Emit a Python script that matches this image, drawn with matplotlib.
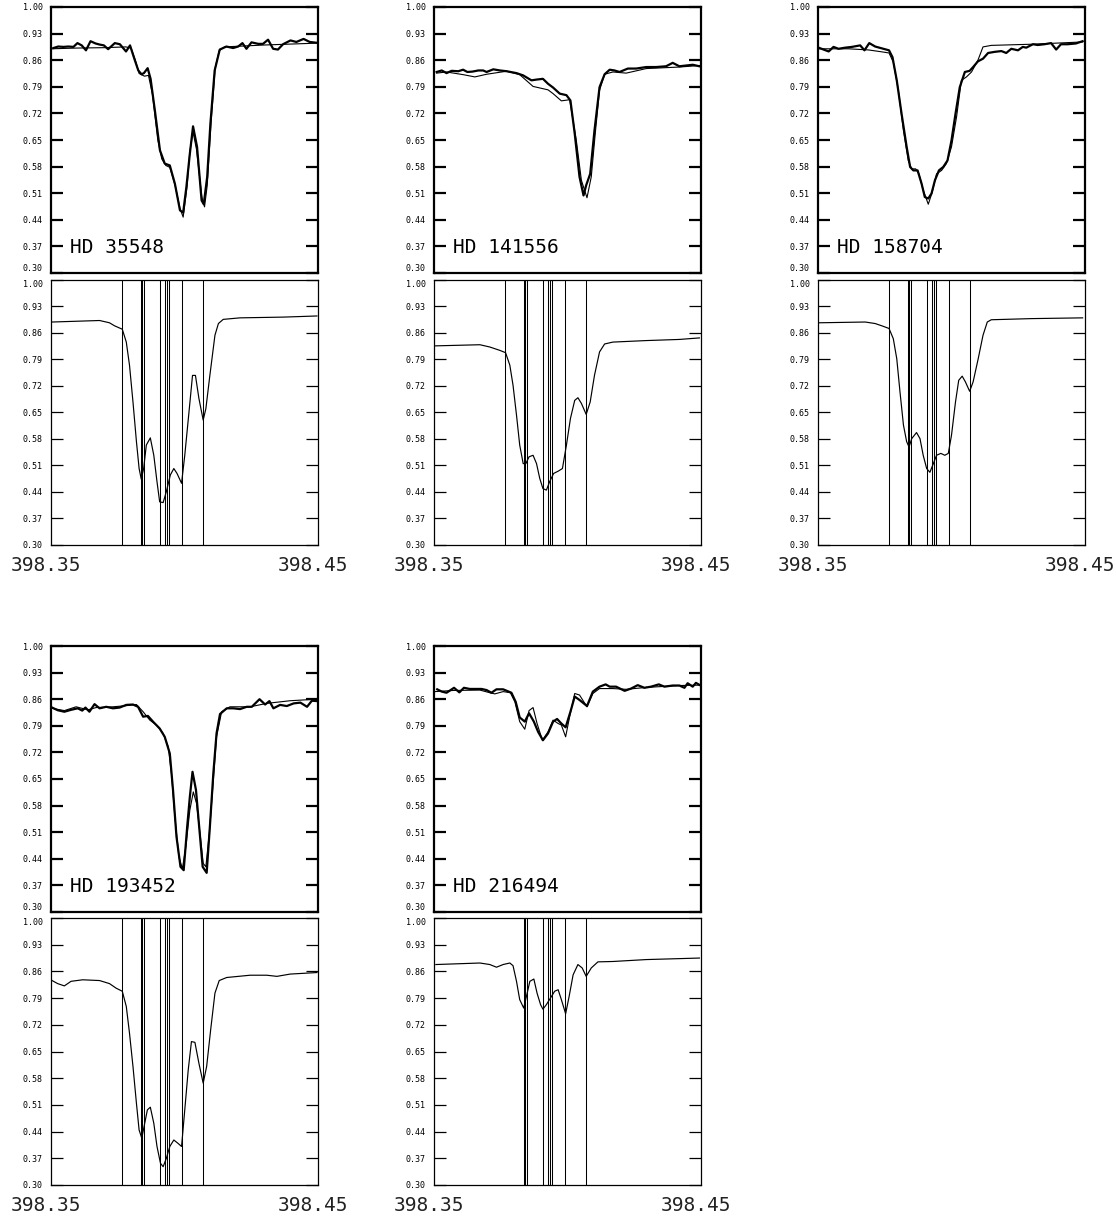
import numpy as np
import matplotlib
matplotlib.use("Agg")
import matplotlib.pyplot as plt
from matplotlib.transforms import ScaledTranslation

# ---------------- data (wavelength offsets in units of 0.001 nm from 398.35 nm) ----------------
WL0 = 398.35
ytick_vals = [0.30, 0.37, 0.44, 0.51, 0.58, 0.65, 0.72, 0.79, 0.86, 0.93, 1.00]
xtick_vals = [398.35, 398.45]
xtick_labels = ["398.35", "398.45"]
star_names = ["HD 35548", "HD 141556", "HD 158704", "HD 193452", "HD 216494"]

# line positions (offsets) marked in lower panels
lines_std = [26.7, 33.7, 34.2, 34.8, 40.7, 42.8, 43.3, 44.1, 49.0, 57.0]
lines_216494 = [33.7, 34.2, 34.8, 40.7, 42.8, 43.3, 44.1, 49.0, 57.0]

# HD 35548
obs1_x = [0.9, 2.7, 4.6, 6.5, 8.4, 9.9, 11.5, 13.1, 14.8, 16.7, 18.3, 19.8, 21.4, 23.9, 25.8, 28.1, 29.6, 31.2, 32.7, 33.9,
          34.8, 36.2, 37.3, 38.9, 40.8, 42.6, 44.5, 46.4, 48.3, 49.5, 50.7, 52.0, 53.2, 54.7, 56.4, 57.2, 58.5, 59.7, 61.3, 63.2,
          65.7, 68.2, 70.1, 71.7, 73.2, 75.1, 77.6, 79.4, 81.3, 83.2, 85.0, 86.9, 89.7, 91.9, 94.6, 96.9, 99.4]
obs1_y = [0.892, 0.896, 0.895, 0.896, 0.895, 0.905, 0.899, 0.886, 0.910, 0.904, 0.901, 0.899, 0.889, 0.905, 0.902, 0.883, 0.899, 0.864, 0.833, 0.823,
          0.826, 0.839, 0.811, 0.728, 0.623, 0.588, 0.583, 0.535, 0.465, 0.459, 0.526, 0.614, 0.686, 0.632, 0.491, 0.481, 0.553, 0.693, 0.833, 0.888,
          0.896, 0.892, 0.896, 0.905, 0.890, 0.907, 0.903, 0.903, 0.914, 0.890, 0.888, 0.902, 0.912, 0.908, 0.916, 0.908, 0.906]
mod1_x = [0, 10, 20, 28, 30, 31.5, 33, 35, 36.5, 38, 40, 41.5, 43, 44.5, 46.5, 48.3, 49.5, 51, 52, 53.2,
          54.5, 56.5, 57.5, 58.5, 60, 61.5, 63, 65, 80, 100]
mod1_y = [0.890, 0.892, 0.893, 0.895, 0.892, 0.862, 0.825, 0.818, 0.820, 0.770, 0.650, 0.600, 0.583, 0.578, 0.530, 0.470, 0.447, 0.530, 0.620, 0.671,
          0.625, 0.500, 0.474, 0.530, 0.700, 0.840, 0.885, 0.895, 0.900, 0.905]
syn1_x = [0.4, 18.2, 21.9, 23.8, 26.7, 28.2, 29.4, 30.7, 32.0, 33.0, 33.8, 34.7, 35.7, 37.2, 38.5, 39.7, 40.7, 42.0, 43.2, 44.7,
          46.0, 47.2, 48.9, 50.1, 51.8, 53.0, 54.1, 55.4, 57.0, 58.0, 59.5, 61.4, 62.7, 64.5, 70.8, 87.1, 99.6]
syn1_y = [0.889, 0.893, 0.887, 0.879, 0.870, 0.836, 0.775, 0.678, 0.573, 0.502, 0.474, 0.502, 0.564, 0.583, 0.537, 0.467, 0.414, 0.412, 0.441, 0.485,
          0.502, 0.489, 0.463, 0.537, 0.660, 0.748, 0.748, 0.687, 0.630, 0.660, 0.748, 0.854, 0.885, 0.896, 0.900, 0.902, 0.905]

# HD 141556
obs2_x = [1.0, 2.9, 4.7, 6.6, 9.1, 10.9, 12.5, 14.4, 16.6, 18.4, 19.7, 22.2, 24.7, 27.2, 30.9, 33.4, 36.5, 38.4, 40.8, 42.7,
          44.6, 47.1, 49.6, 51.1, 52.7, 54.5, 56.0, 57.0, 58.5, 60.1, 62.0, 63.9, 65.8, 67.6, 69.5, 72.6, 75.7, 79.5, 83.2, 86.9,
          89.4, 91.9, 94.4, 96.9, 99.4]
obs2_y = [0.829, 0.833, 0.826, 0.832, 0.831, 0.835, 0.829, 0.830, 0.833, 0.833, 0.829, 0.836, 0.833, 0.831, 0.826, 0.820, 0.807, 0.809, 0.811, 0.798,
          0.788, 0.772, 0.768, 0.754, 0.667, 0.553, 0.504, 0.531, 0.561, 0.675, 0.789, 0.823, 0.835, 0.833, 0.829, 0.838, 0.838, 0.842, 0.842, 0.844,
          0.853, 0.844, 0.846, 0.848, 0.844]
mod2_x = [1.0, 4.7, 10.9, 15.3, 19.7, 27.2, 32.1, 37.1, 42.7, 44.6, 47.7, 50.8, 53.3, 55.2, 57.3, 58.9, 60.5, 62.0, 63.9, 67.0,
          72.0, 79.5, 91.9, 99.4]
mod2_y = [0.826, 0.829, 0.822, 0.816, 0.823, 0.831, 0.822, 0.791, 0.782, 0.772, 0.753, 0.756, 0.649, 0.544, 0.498, 0.553, 0.675, 0.781, 0.823, 0.829,
          0.826, 0.838, 0.842, 0.846]
syn2_x = [0.4, 17.2, 20.9, 24.7, 26.8, 28.4, 29.6, 30.9, 32.1, 33.4, 34.4, 35.6, 37.1, 38.4, 39.6, 40.8, 42.1, 43.3, 44.8, 46.5,
          48.1, 49.6, 51.1, 52.7, 53.9, 55.2, 57.0, 58.5, 60.1, 62.0, 63.9, 67.0, 79.5, 91.9, 99.4]
syn2_y = [0.826, 0.829, 0.823, 0.814, 0.808, 0.775, 0.722, 0.643, 0.564, 0.515, 0.515, 0.533, 0.537, 0.515, 0.476, 0.449, 0.445, 0.467, 0.489, 0.495,
          0.502, 0.564, 0.634, 0.682, 0.689, 0.674, 0.645, 0.678, 0.748, 0.810, 0.831, 0.836, 0.840, 0.843, 0.847]

# HD 158704
obs3_x = [0.6, 2.1, 4.0, 5.8, 7.7, 10.2, 12.7, 15.8, 17.4, 19.2, 21.4, 24.5, 26.6, 27.9, 29.5, 31.3, 33.2, 34.5, 35.7, 37.3,
          38.8, 40.0, 41.3, 42.5, 43.8, 45.3, 46.9, 48.5, 50.0, 51.5, 53.1, 55.0, 56.8, 58.1, 59.9, 61.8, 63.7, 66.2, 68.7, 70.5,
          72.4, 74.9, 76.7, 78.0, 80.5, 82.3, 84.8, 87.3, 89.2, 91.0, 93.5, 96.6, 99.1]
obs3_y = [0.892, 0.888, 0.883, 0.895, 0.890, 0.893, 0.895, 0.899, 0.886, 0.905, 0.896, 0.890, 0.886, 0.868, 0.807, 0.719, 0.632, 0.579, 0.570, 0.570,
          0.535, 0.500, 0.496, 0.509, 0.544, 0.570, 0.579, 0.596, 0.649, 0.719, 0.789, 0.829, 0.832, 0.842, 0.857, 0.864, 0.879, 0.882, 0.884, 0.879,
          0.890, 0.886, 0.895, 0.893, 0.902, 0.900, 0.902, 0.905, 0.888, 0.902, 0.902, 0.904, 0.910]
mod3_x = [0.2, 11.4, 18.9, 23.9, 26.6, 28.2, 30.1, 32.0, 33.8, 35.1, 36.6, 37.8, 39.4, 41.3, 42.8, 44.4, 46.3, 48.1, 50.0, 51.9,
          53.7, 55.6, 57.5, 59.9, 61.8, 64.9, 79.9, 99.1]
mod3_y = [0.890, 0.890, 0.887, 0.882, 0.879, 0.855, 0.781, 0.675, 0.596, 0.574, 0.574, 0.561, 0.518, 0.481, 0.513, 0.561, 0.570, 0.588, 0.632, 0.711,
          0.807, 0.816, 0.829, 0.860, 0.895, 0.899, 0.902, 0.908]
syn3_x = [0.5, 17.7, 21.4, 23.9, 26.6, 28.2, 29.5, 30.7, 32.0, 33.2, 34.1, 35.1, 36.9, 38.2, 39.4, 40.7, 41.9, 43.2, 44.4, 46.0,
          47.5, 48.8, 50.0, 51.5, 52.7, 54.0, 55.2, 56.8, 58.1, 60.0, 61.8, 63.4, 64.9, 79.9, 99.1]
syn3_y = [0.887, 0.889, 0.885, 0.879, 0.872, 0.845, 0.792, 0.705, 0.617, 0.573, 0.559, 0.581, 0.597, 0.581, 0.537, 0.502, 0.492, 0.515, 0.537, 0.542,
          0.537, 0.542, 0.590, 0.678, 0.735, 0.746, 0.731, 0.706, 0.731, 0.792, 0.854, 0.889, 0.895, 0.898, 0.900]

# HD 193452
obs4_x = [0.4, 2.5, 5.0, 7.5, 10.0, 11.7, 12.9, 14.4, 16.3, 18.2, 20.7, 23.2, 25.7, 28.2, 30.7, 32.6, 34.5, 36.3, 38.2, 40.7,
          42.6, 44.5, 45.7, 47.0, 48.5, 49.7, 51.0, 52.0, 53.0, 54.3, 55.5, 56.8, 58.3, 59.5, 60.8, 62.0, 63.3, 65.8, 68.3, 70.8,
          73.3, 75.2, 78.1, 80.2, 81.8, 83.3, 85.8, 88.3, 90.9, 93.4, 95.9, 97.7, 99.6]
obs4_y = [0.838, 0.831, 0.827, 0.832, 0.836, 0.830, 0.838, 0.827, 0.847, 0.836, 0.840, 0.836, 0.838, 0.845, 0.846, 0.840, 0.814, 0.816, 0.801, 0.783,
          0.761, 0.717, 0.621, 0.498, 0.419, 0.410, 0.524, 0.603, 0.669, 0.621, 0.524, 0.419, 0.403, 0.524, 0.665, 0.770, 0.821, 0.836, 0.836, 0.834,
          0.840, 0.840, 0.860, 0.846, 0.855, 0.836, 0.845, 0.842, 0.849, 0.851, 0.840, 0.856, 0.855]
mod4_x = [0.4, 5.0, 9.4, 13.8, 16.9, 23.2, 28.2, 32.0, 34.5, 37.0, 39.5, 42.0, 43.9, 45.1, 46.4, 47.9, 49.2, 50.5, 52.0, 53.3,
          54.5, 55.8, 57.0, 58.0, 59.3, 60.8, 62.0, 63.9, 67.0, 74.6, 80.8, 89.6, 99.6]
mod4_y = [0.836, 0.830, 0.840, 0.832, 0.838, 0.840, 0.843, 0.846, 0.827, 0.805, 0.792, 0.770, 0.735, 0.665, 0.550, 0.445, 0.414, 0.471, 0.568, 0.616,
          0.586, 0.507, 0.428, 0.419, 0.507, 0.647, 0.761, 0.827, 0.840, 0.840, 0.849, 0.856, 0.860]
syn4_x = [0.4, 2.5, 5.0, 7.5, 11.9, 18.2, 21.9, 24.4, 26.7, 28.2, 29.4, 30.7, 32.0, 33.0, 34.0, 35.1, 36.1, 37.2, 38.5, 39.7,
          41.0, 42.0, 43.2, 44.5, 46.0, 47.6, 48.9, 50.1, 51.4, 52.6, 53.9, 55.4, 57.0, 58.3, 59.8, 61.4, 63.0, 65.8, 74.6, 80.8,
          84.6, 89.6, 99.6]
syn4_y = [0.836, 0.828, 0.822, 0.834, 0.838, 0.836, 0.828, 0.816, 0.808, 0.768, 0.698, 0.611, 0.514, 0.444, 0.423, 0.462, 0.497, 0.504, 0.462, 0.401,
          0.357, 0.348, 0.370, 0.401, 0.418, 0.409, 0.401, 0.497, 0.602, 0.676, 0.674, 0.619, 0.567, 0.611, 0.707, 0.803, 0.836, 0.844, 0.850, 0.850,
          0.847, 0.853, 0.857]

# HD 216494
obs5_x = [1.2, 2.9, 4.7, 7.5, 9.5, 11.2, 13.4, 15.9, 17.8, 19.7, 21.5, 23.4, 25.9, 29.0, 30.6, 32.1, 34.0, 35.6, 37.4, 39.0,
          40.8, 42.7, 44.6, 46.1, 47.7, 49.3, 51.1, 52.7, 54.5, 57.3, 59.5, 62.0, 64.3, 65.8, 68.2, 71.4, 73.8, 76.3, 78.8, 81.3,
          84.2, 86.3, 89.4, 91.9, 93.8, 95.0, 96.9, 98.1, 99.6]
obs5_y = [0.886, 0.880, 0.877, 0.890, 0.878, 0.890, 0.887, 0.887, 0.887, 0.884, 0.877, 0.886, 0.886, 0.877, 0.853, 0.812, 0.801, 0.823, 0.801, 0.774,
          0.752, 0.770, 0.801, 0.808, 0.796, 0.786, 0.827, 0.867, 0.858, 0.842, 0.880, 0.893, 0.899, 0.893, 0.893, 0.882, 0.888, 0.897, 0.890, 0.893,
          0.899, 0.893, 0.896, 0.896, 0.890, 0.902, 0.893, 0.903, 0.897]
mod5_x = [0.4, 7.2, 17.2, 20.9, 22.8, 25.9, 28.6, 30.3, 32.1, 34.0, 35.6, 37.1, 38.6, 40.6, 42.7, 44.6, 46.5, 47.7, 49.3, 50.8,
          52.7, 54.5, 57.3, 59.5, 62.0, 67.0, 72.0, 79.5, 91.9, 99.4]
mod5_y = [0.880, 0.883, 0.884, 0.877, 0.874, 0.880, 0.877, 0.853, 0.801, 0.781, 0.830, 0.838, 0.796, 0.752, 0.774, 0.805, 0.796, 0.792, 0.761, 0.814,
          0.875, 0.871, 0.840, 0.875, 0.888, 0.888, 0.886, 0.891, 0.896, 0.897]
syn5_x = [0.7, 17.2, 20.9, 23.4, 25.9, 28.4, 29.6, 30.9, 32.1, 33.6, 34.6, 35.9, 37.4, 38.6, 39.9, 40.8, 42.1, 43.6, 45.2, 46.5,
          47.7, 49.3, 50.6, 52.1, 53.9, 55.5, 57.0, 58.9, 61.4, 67.0, 79.5, 99.4]
syn5_y = [0.878, 0.882, 0.878, 0.871, 0.878, 0.882, 0.875, 0.834, 0.786, 0.764, 0.794, 0.834, 0.840, 0.803, 0.773, 0.761, 0.773, 0.790, 0.808, 0.812,
          0.786, 0.749, 0.794, 0.851, 0.878, 0.869, 0.847, 0.869, 0.885, 0.886, 0.891, 0.895]

panels = [
    (obs1_x, obs1_y, mod1_x, mod1_y, syn1_x, syn1_y, lines_std),
    (obs2_x, obs2_y, mod2_x, mod2_y, syn2_x, syn2_y, lines_std),
    (obs3_x, obs3_y, mod3_x, mod3_y, syn3_x, syn3_y, lines_std),
    (obs4_x, obs4_y, mod4_x, mod4_y, syn4_x, syn4_y, lines_std),
    (obs5_x, obs5_y, mod5_x, mod5_y, syn5_x, syn5_y, lines_216494),
]

# ---------------- layout ----------------
W, H = 1116, 1217
fig = plt.figure(figsize=(W / 100, H / 100), dpi=100)
MONO = "DejaVu Sans Mono"

col_left = [51, 434, 818]
box_w = 267
rows = [((7, 273), (280, 545)), ((646, 912), (918, 1185))]


def wl(d):
    return WL0 + np.asarray(d) / 1000.0


def make_ax(x0, ytop, ybot):
    return fig.add_axes([x0 / W, 1 - ybot / H, box_w / W, (ybot - ytop) / H])


def style_y(ax, lw_tick, lw_frame, upper):
    ax.set_ylim(0.30, 1.00)
    ax.set_xlim(398.35, 398.45)
    ax.set_yticks(ytick_vals)
    ax.set_yticklabels(["%.2f" % v for v in ytick_vals], family=MONO, fontsize=6)
    ax.tick_params(axis="y", which="both", direction="in", left=True, right=True,
                   length=8.5, width=lw_tick, pad=6, colors="black")
    labs = ax.get_yticklabels()
    if upper:
        labs[0].set_va("bottom")   # 0.30 label sits just above the bottom edge
    else:
        labs[-1].set_va("top")     # 1.00 label sits just below the top edge
    for s in ax.spines.values():
        s.set_linewidth(lw_frame)


for i, (ox, oy, mx, my, sx, sy, lines) in enumerate(panels):
    r, c = divmod(i, 3)
    (ut, ub), (lt, lb) = rows[r]
    x0 = col_left[c]

    axu = make_ax(x0, ut, ub)
    style_y(axu, 1.6, 1.6, True)
    axu.set_xticks([])
    axu.plot(wl(mx), my, color="black", lw=0.8)
    axu.plot(wl(ox), oy, color="black", lw=1.6)
    axu.text(0.071, 0.075, star_names[i], transform=axu.transAxes, fontsize=14,
             family=MONO, va="baseline", ha="left")

    axl = make_ax(x0, lt, lb)
    style_y(axl, 0.9, 0.9, False)
    for L in lines:
        axl.axvline(WL0 + L / 1000.0, color="black", lw=0.75)
    axl.plot(wl(sx), sy, color="black", lw=0.85)
    axl.set_xticks(xtick_vals)
    axl.set_xticklabels(xtick_labels, family=MONO, fontsize=14)
    axl.tick_params(axis="x", length=0, pad=8, colors="#222222")
    shift = ScaledTranslation(-5 / 100, 0, fig.dpi_scale_trans)
    for lab in axl.get_xticklabels():
        lab.set_transform(lab.get_transform() + shift)

fig.savefig("out.png", dpi=100, facecolor="white")
